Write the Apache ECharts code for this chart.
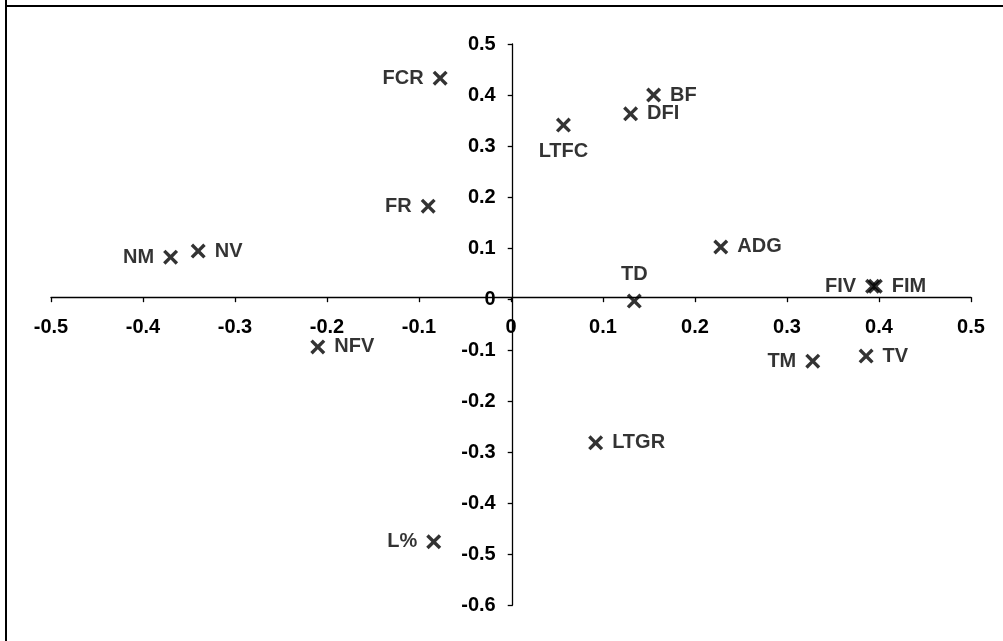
<!DOCTYPE html>
<html>
<head>
<meta charset="utf-8">
<script src="https://cdn.jsdelivr.net/npm/echarts@6/dist/echarts.min.js"></script>
<style>
html,body{margin:0;padding:0;background:#fff;}
#chart{width:1003px;height:641px;}
</style>
</head>
<body>
<div id="chart"></div>
<script>
// Data
const names = ['FCR','FR','LTFC','DFI','BF','TD','ADG','FIV','FIM','TM','TV','NM','NV','NFV','LTGR','L%'];
const xs    = [-0.077,-0.090,0.057,0.130,0.155,0.134,0.228,0.393,0.396,0.328,0.386,-0.370,-0.340,-0.210,0.092,-0.084];
const ys    = [0.433,0.182,0.341,0.363,0.400,-0.004,0.102,0.025,0.025,-0.122,-0.112,0.082,0.094,-0.094,-0.282,-0.476];
const xTicks = [-0.5,-0.4,-0.3,-0.2,-0.1,0,0.1,0.2,0.3,0.4,0.5];
const yTicks = [-0.6,-0.5,-0.4,-0.3,-0.2,-0.1,0,0.1,0.2,0.3,0.4,0.5];

// label placement (style, kept apart from data)
const labelPlace = {
  'FCR':'left','FR':'left','LTFC':'bottom','DFI':'right','BF':'right','TD':'top',
  'ADG':'right','FIV':'left','FIM':'right','TM':'left','TV':'right','NM':'left',
  'NV':'right','NFV':'right','LTGR':'right','L%':'left'
};

const FONT = 'Liberation Sans, Arial, sans-serif';
const crossPath = 'path://M0,16L16,0L50,34L84,0L100,16L66,50L100,84L84,100L50,66L16,100L0,84L34,50Z';

const GRID = {left:51, right:32, top:44, bottom:36};
const chart = echarts.init(document.getElementById('chart'), null, {renderer:'canvas'});
const fmt = v => (Math.abs(v) < 1e-9 ? '0' : String(Math.round(v*10)/10));

const labelStyle = {color:'#000', fontSize:20, fontWeight:'bold', fontFamily:FONT};

chart.setOption({
  animation:false,
  backgroundColor:'#fff',
  grid:Object.assign({containLabel:false}, GRID),
  xAxis:{
    type:'value', min:xTicks[0], max:xTicks[xTicks.length-1], interval:0.1,
    axisLine:{show:true, onZero:false, lineStyle:{color:'#000', width:1.3}},
    axisTick:{show:true, inside:false, length:5, lineStyle:{color:'#000', width:1.3}},
    axisLabel:Object.assign({margin:20, formatter:fmt}, labelStyle),
    splitLine:{show:false}
  },
  yAxis:{
    type:'value', min:yTicks[0], max:yTicks[yTicks.length-1], interval:0.1,
    axisLine:{show:true, onZero:false, lineStyle:{color:'#000', width:1.3}},
    axisTick:{show:true, inside:false, length:5, lineStyle:{color:'#000', width:1.3}},
    axisLabel:Object.assign({margin:17, formatter:fmt}, labelStyle),
    splitLine:{show:false}
  },
  graphic:[
    {type:'line', shape:{x1:6, y1:0, x2:6, y2:641}, style:{stroke:'#000', lineWidth:2}},
    {type:'line', shape:{x1:6, y1:6, x2:1003, y2:6}, style:{stroke:'#000', lineWidth:2}}
  ],
  series:[{
    type:'scatter',
    symbol:crossPath,
    symbolSize:15,
    itemStyle:{color:'#000'},
    label:Object.assign({show:true, formatter:p=>p.name, distance:9}, labelStyle),
    data:names.map((n,i)=>({name:n, value:[xs[i], ys[i]], label:{position:labelPlace[n]}}))
  }]
});

// Move both axes so that they cross at the origin (computed through the chart's own scales)
const origin = chart.convertToPixel({gridIndex:0}, [0, 0]);
const H = chart.getHeight();
const bottomEdge = H - GRID.bottom;
const leftEdge = GRID.left;
chart.setOption({
  xAxis:{offset: origin[1] - bottomEdge},
  yAxis:{offset: leftEdge - origin[0]}
});
</script>
</body>
</html>
